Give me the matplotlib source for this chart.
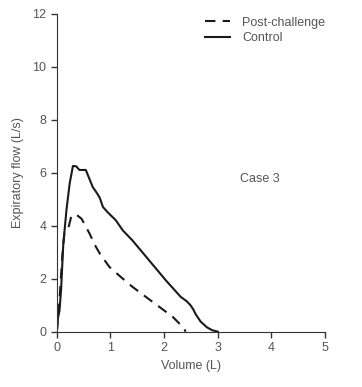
import matplotlib.pyplot as plt

plt.rcParams['font.family'] = ['Liberation Sans', 'DejaVu Sans']

# Curva controle (volume em L, fluxo em L/s)
vol_control = [0.0, 0.02, 0.05, 0.08, 0.12, 0.18, 0.24, 0.30, 0.36, 0.42, 0.46, 0.54,
               0.60, 0.67, 0.74, 0.80, 0.86, 0.95, 1.10, 1.23, 1.41, 1.72, 2.03,
               2.31, 2.42, 2.49, 2.54, 2.59, 2.68, 2.80, 2.90, 3.0]
flow_control = [0.0, 0.5, 0.8, 1.6, 3.3, 4.6, 5.6, 6.25, 6.24, 6.1, 6.1, 6.1,
                5.8, 5.45, 5.25, 5.05, 4.7, 4.5, 4.2, 3.82, 3.44, 2.69, 1.94,
                1.31, 1.15, 1.0, 0.85, 0.65, 0.38, 0.16, 0.05, 0.0]

# Curva pós-desafio
vol_post = [0.0, 0.05, 0.10, 0.14, 0.21, 0.27, 0.32, 0.36, 0.46, 0.53, 0.61, 0.70,
            0.80, 0.98, 1.20, 1.41, 1.78, 2.16, 2.37, 2.40]
flow_post = [0.0, 1.2, 2.8, 3.7, 3.88, 4.35, 4.42, 4.42, 4.26, 4.0, 3.7, 3.3,
             2.95, 2.44, 2.05, 1.69, 1.13, 0.56, 0.13, 0.0]

fig = plt.figure(figsize=(3.62, 3.87), dpi=100)
ax = fig.add_axes([0.157, 0.143, 0.741, 0.822])

ax.plot(vol_post, flow_post, color='#1a1a1a', linestyle=(0, (5, 3.5)), linewidth=1.5, label='Post-challenge')
ax.plot(vol_control, flow_control, color='#1a1a1a', linestyle='-', linewidth=1.5, label='Control')

ax.set_xlim(0, 5)
ax.set_ylim(0, 12)
ax.set_xticks(range(0, 6))
ax.set_yticks(range(0, 13, 2))
ax.spines['top'].set_visible(False)
ax.spines['right'].set_visible(False)
ax.spines['left'].set_color('#333333')
ax.spines['bottom'].set_color('#333333')
ax.tick_params(direction='out', length=4, width=1, colors='#333333', labelcolor='#555555', labelsize=9)

ax.set_xlabel('Volume (L)', fontsize=9, color='#555555', labelpad=4)
ax.set_ylabel('Expiratory flow (L/s)', fontsize=9, color='#555555', labelpad=6)

ax.text(3.41, 5.76, 'Case 3', fontsize=9, color='#555555', va='center')

leg = ax.legend(loc='upper left', bbox_to_anchor=(0.51, 1.025), frameon=False,
                fontsize=9, handlelength=2.0, handletextpad=1.0, labelspacing=0.25)
for t in leg.get_texts():
    t.set_color('#555555')

fig.savefig('out.png', dpi=100)
